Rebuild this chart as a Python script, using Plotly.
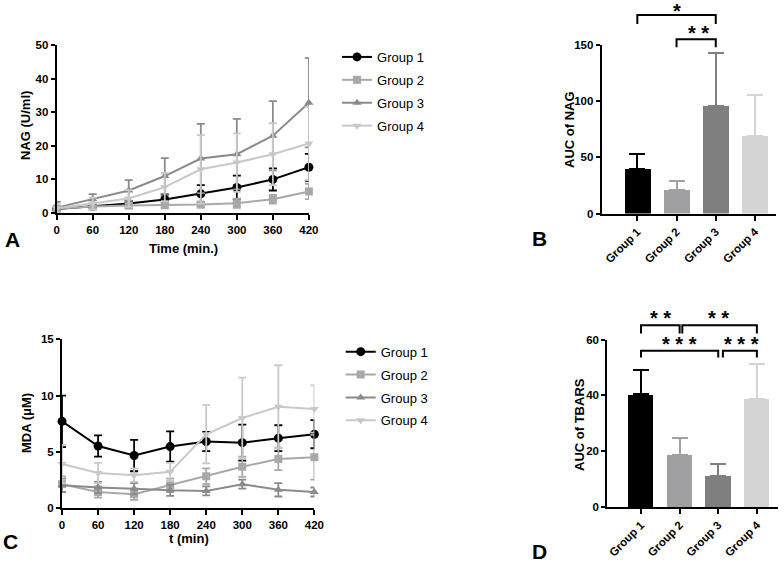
import plotly.graph_objects as go

# ---- data ----
time = [0, 60, 120, 180, 240, 300, 360, 420]
groups = ["Group 1", "Group 2", "Group 3", "Group 4"]

nag_g1 = [1.2, 2.0, 2.8, 4.0, 5.7, 7.6, 10.0, 13.6]
nag_g1_err = [0.4, 0.5, 0.8, 1.5, 2.6, 3.5, 3.3, 4.0]
nag_g2 = [1.3, 1.9, 2.2, 2.3, 2.5, 2.9, 4.1, 6.4]
nag_g2_err = [0.5, 0.6, 0.7, 0.8, 0.8, 1.4, 1.3, 2.3]
nag_g3 = [1.6, 4.1, 6.7, 11.0, 16.2, 17.5, 23.0, 32.8]
nag_g3_err = [1.7, 1.5, 3.1, 5.3, 10.3, 10.5, 10.3, 13.3]
nag_g4 = [1.4, 2.8, 4.3, 7.7, 13.0, 15.0, 17.5, 20.7]
nag_g4_err = [1.2, 1.8, 2.5, 4.2, 10.2, 8.7, 9.2, 10.9]

mda_g1 = [7.7, 5.5, 4.65, 5.45, 5.9, 5.8, 6.2, 6.55]
mda_g1_err = [2.3, 0.95, 1.4, 1.35, 0.85, 1.6, 1.15, 1.25]
mda_g2 = [2.1, 1.4, 1.2, 2.0, 2.8, 3.65, 4.35, 4.5]
mda_g2_err = [0.7, 0.5, 0.5, 0.6, 0.7, 0.9, 1.0, 2.0]
mda_g3 = [2.0, 1.8, 1.7, 1.55, 1.5, 2.1, 1.6, 1.4]
mda_g3_err = [0.6, 0.5, 0.5, 0.5, 0.4, 0.4, 0.6, 0.4]
mda_g4 = [3.9, 3.1, 2.9, 3.2, 6.55, 8.0, 9.0, 8.8]
mda_g4_err = [1.7, 0.9, 0.6, 0.8, 2.6, 3.6, 3.7, 2.1]

auc_nag = [39.5, 21.0, 96.0, 69.0]
auc_nag_err = [13.5, 8.0, 46.5, 36.5]
auc_tbars = [40.4, 18.6, 11.2, 38.8]
auc_tbars_err = [8.7, 6.2, 4.2, 12.3]

# significance: (group a, group b, stars)
sig_nag = [(0, 2, "*"), (1, 2, "* *")]
sig_tbars = [(0, 1, "* *"), (1, 3, "* *"), (0, 2, "* * *"), (2, 3, "* * *")]

FONT = "Liberation Sans, Arial, sans-serif"
line_cols = ["#000000", "#a8a8a8", "#8a8a8a", "#c8c8c8"]
bar_cols = ["#000000", "#a0a0a3", "#7f7f7f", "#d4d4d4"]
symbols = ["circle", "square", "triangle-up", "triangle-down"]
msize = [9, 8, 8, 8]

W, H = 784, 562
dom = {
    "A": ([0.0723, 0.394], [0.621, 0.920]),
    "B": ([0.7675, 0.990], [0.620, 0.920]),
    "C": ([0.0791, 0.401], [0.0966, 0.396]),
    "D": ([0.7746, 0.992], [0.0979, 0.3956]),
}
yr = {"A": [0, 50], "B": [0, 150], "C": [0, 15], "D": [0, 60]}


def ypaper(v, p):
    d, r = dom[p][1], yr[p]
    return d[0] + (v - r[0]) / (r[1] - r[0]) * (d[1] - d[0])


fig = go.Figure()

nag = [(nag_g1, nag_g1_err), (nag_g2, nag_g2_err), (nag_g3, nag_g3_err), (nag_g4, nag_g4_err)]
mda = [(mda_g1, mda_g1_err), (mda_g2, mda_g2_err), (mda_g3, mda_g3_err), (mda_g4, mda_g4_err)]

for i in range(4):
    fig.add_trace(go.Scatter(
        x=time, y=nag[i][0], name=groups[i], mode="lines+markers",
        line=dict(color=line_cols[i], width=2),
        marker=dict(symbol=symbols[i], size=msize[i], color=line_cols[i]),
        error_y=dict(type="data", array=nag[i][1], color=line_cols[i], thickness=1.8, width=4),
        cliponaxis=False, xaxis="x", yaxis="y", legend="legend", legendgroup="a%d" % i))
for i in range(4):
    fig.add_trace(go.Scatter(
        x=time, y=mda[i][0], name=groups[i], mode="lines+markers",
        line=dict(color=line_cols[i], width=2),
        marker=dict(symbol=symbols[i], size=msize[i], color=line_cols[i]),
        error_y=dict(type="data", array=mda[i][1], color=line_cols[i], thickness=1.8, width=4),
        cliponaxis=False, xaxis="x3", yaxis="y3", legend="legend2", legendgroup="c%d" % i))

for i in range(4):
    fig.add_trace(go.Bar(
        x=[i], y=[auc_nag[i]], width=0.66, marker=dict(color=bar_cols[i], line=dict(width=0)),
        error_y=dict(type="data", symmetric=False, array=[auc_nag_err[i]], arrayminus=[0],
                     color=bar_cols[i], thickness=2, width=8),
        showlegend=False, xaxis="x2", yaxis="y2"))
    fig.add_trace(go.Bar(
        x=[i], y=[auc_tbars[i]], width=0.66, marker=dict(color=bar_cols[i], line=dict(width=0)),
        error_y=dict(type="data", symmetric=False, array=[auc_tbars_err[i]], arrayminus=[0],
                     color=bar_cols[i], thickness=2, width=8),
        showlegend=False, xaxis="x4", yaxis="y4"))

tickfont = dict(family=FONT, size=11.5, color="black", weight="bold")
common = dict(showline=True, linecolor="black", linewidth=2, ticks="outside", ticklen=5,
              tickwidth=2, tickcolor="black", showgrid=False, zeroline=False,
              tickfont=tickfont, automargin=False)


def line_x(p, anchor):
    return dict(common, domain=dom[p][0], range=[0, 420], tickvals=time, anchor=anchor)


def y_axes(p, dtick, anchor):
    return dict(common, domain=dom[p][1], range=yr[p], dtick=dtick, anchor=anchor, ticklen=4)


def bar_x(p, rng, anchor):
    return dict(common, domain=dom[p][0], range=rng, tickvals=[0, 1, 2, 3], ticktext=groups,
                tickangle=-45, anchor=anchor)


fig.update_layout(
    width=W, height=H, margin=dict(l=0, r=0, t=0, b=0, autoexpand=False),
    paper_bgcolor="white", plot_bgcolor="white", bargap=0,
    font=dict(family=FONT, color="black"),
    xaxis=line_x("A", "y"), yaxis=y_axes("A", 10, "x"),
    xaxis3=line_x("C", "y3"), yaxis3=y_axes("C", 5, "x3"),
    xaxis2=bar_x("B", [-0.908, 3.54], "y2"), yaxis2=y_axes("B", 50, "x2"),
    xaxis4=bar_x("D", [-0.873, 3.54], "y4"), yaxis4=y_axes("D", 20, "x4"),
    legend=dict(x=0.4299, y=0.9253, xanchor="left", yanchor="top", itemwidth=30,
                font=dict(family=FONT, size=13), tracegroupgap=3, bgcolor="rgba(0,0,0,0)"),
    legend2=dict(x=0.4346, y=0.4009, xanchor="left", yanchor="top", itemwidth=30,
                 font=dict(family=FONT, size=13), tracegroupgap=3, bgcolor="rgba(0,0,0,0)"),
)


def label(text, px, py, size=13, angle=0):
    fig.add_annotation(x=px / W, y=1 - py / H, xref="paper", yref="paper", text=text,
                       showarrow=False, textangle=angle, xanchor="center", yanchor="middle",
                       font=dict(family=FONT, size=size, color="black", weight="bold"))


# axis titles
label("NAG (U/ml)", 25, 126, angle=-90)
label("Time (min.)", 183, 249)
label("AUC of NAG", 569, 130, angle=-90)
label("MDA (μM)", 26, 423, angle=-90)
label("t (min)", 189, 538)
label("AUC of TBARS", 579, 425, angle=-90)

# panel letters
label("A", 12, 239, size=21)
label("B", 539, 238, size=21)
label("C", 10, 541, size=21)
label("D", 539, 551, size=21)


# significance brackets
def bracket(p, xa, a, b, ytop, ydrop, text, ytext, xtext=None):
    y0 = ypaper(ytop, p)
    y1 = ypaper(ytop - ydrop, p)
    fig.add_shape(type="path", xref=xa, yref="paper",
                  path="M %f,%f L %f,%f L %f,%f L %f,%f" % (a, y1, a, y0, b, y0, b, y1),
                  line=dict(color="black", width=2))
    fig.add_annotation(x=(a + b) / 2 if xtext is None else xtext, y=ypaper(ytext, p),
                       xref=xa, yref="paper", text=text, showarrow=False,
                       xanchor="center", yanchor="middle",
                       font=dict(family=FONT, size=20, color="black", weight="bold"))


bracket("B", "x2", sig_nag[0][0], sig_nag[0][1], 176.6, 8, sig_nag[0][2], 180.5)
bracket("B", "x2", sig_nag[1][0], sig_nag[1][1], 155, 7, sig_nag[1][2], 161, 1.55)
bracket("D", "x4", 0, 1.0, 65.2, 3, sig_tbars[0][2], 67.6)
bracket("D", "x4", 1.07, 3, 65.2, 3, sig_tbars[1][2], 67.6, 2.0)
bracket("D", "x4", 0, 2.0, 56.0, 2.4, sig_tbars[2][2], 58.4, 1.0)
bracket("D", "x4", 2.12, 3, 56.0, 2.4, sig_tbars[3][2], 58.4, 2.6)

fig.write_html("out.html", config={"displayModeBar": False},
               post_script="document.body.style.margin='0px';")
